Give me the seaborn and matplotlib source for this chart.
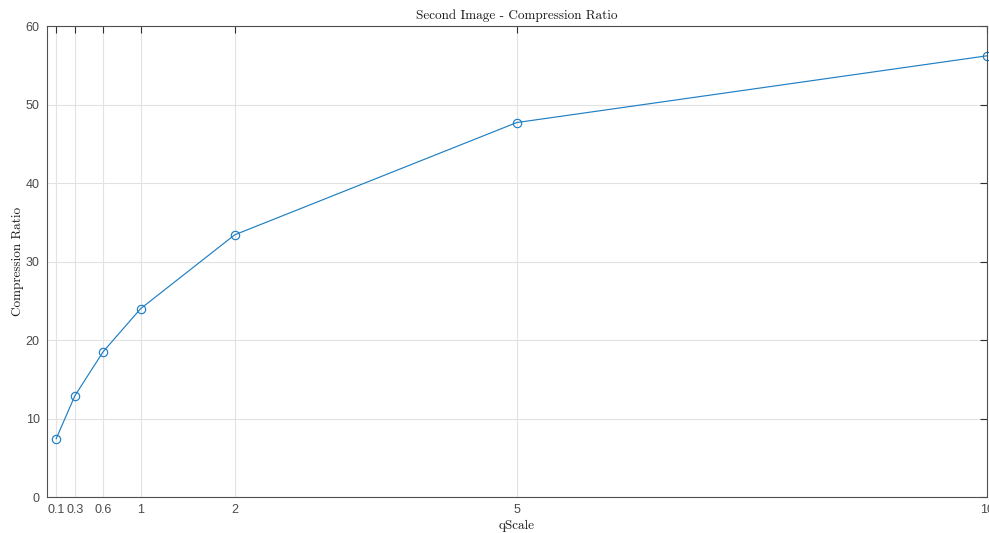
import matplotlib
matplotlib.use("Agg")
import matplotlib.pyplot as plt
import seaborn as sns
import pandas as pd

# qScale settings and the resulting compression ratios
q_scale = [0.1, 0.3, 0.6, 1, 2, 5, 10]
compression_ratio = [7.4, 12.9, 18.5, 24.0, 33.4, 47.7, 56.2]
x_ticks = [0.1, 0.3, 0.6, 1, 2, 5, 10]
x_tick_labels = ["0.1", "0.3", "0.6", "1", "2", "5", "10"]
y_ticks = [0, 10, 20, 30, 40, 50, 60]

df = pd.DataFrame({"qScale": q_scale, "ratio": compression_ratio})

sns.set_style("white")
plt.rcParams["font.family"] = ["Liberation Sans", "DejaVu Sans"]

line_color = "#1f7fc4"
ink = "#4a4a4a"
serif = ["cmr10", "DejaVu Serif"]

fig = plt.figure(figsize=(9.89, 5.33), dpi=100)
ax = fig.add_axes([0.0472, 0.0675, 0.9505, 0.8837])

sns.lineplot(data=df, x="qScale", y="ratio", ax=ax, color=line_color,
             linewidth=0.85, marker="o", markersize=6,
             markerfacecolor="none", markeredgecolor=line_color,
             markeredgewidth=0.85, clip_on=False)

ax.set_xlim(0, 10)
ax.set_ylim(0, 60)
ax.set_xticks(x_ticks)
ax.set_xticklabels(x_tick_labels)
ax.set_yticks(y_ticks)

ax.grid(True, color="#e2e2e2", linewidth=0.8)
ax.set_axisbelow(True)

for side in ["left", "bottom", "top", "right"]:
    ax.spines[side].set_visible(True)
    ax.spines[side].set_color("#505050")
    ax.spines[side].set_linewidth(0.8)

ax.tick_params(axis="both", which="major", direction="in", length=5,
               width=0.8, color="#303030", labelcolor=ink, labelsize=9,
               top=True, right=True, pad=5)

ax.set_title("Second Image - Compression Ratio", fontfamily=serif,
             fontsize=9.5, color="#1a1a1a", pad=5)
ax.set_xlabel("qScale", fontfamily=serif, fontsize=9.5, color="#1a1a1a",
              labelpad=3)
ax.set_ylabel("Compression Ratio", fontfamily=serif, fontsize=9.5,
              color="#1a1a1a", labelpad=1.5)

fig.savefig("out.png", dpi=100)
